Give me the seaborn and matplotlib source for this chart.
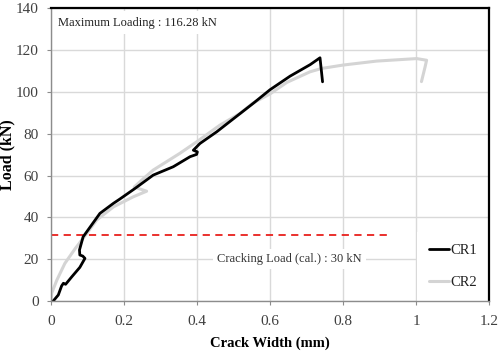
import matplotlib
matplotlib.use("Agg")
import matplotlib.pyplot as plt
import seaborn as sns
import pandas as pd

# crack width (mm) vs load (kN)
cr1_width = [0.006, 0.02, 0.029, 0.034, 0.04, 0.057, 0.079, 0.093, 0.087, 0.079, 0.078,
             0.088, 0.111, 0.134, 0.171, 0.189, 0.23, 0.28, 0.335, 0.381, 0.399, 0.401,
             0.39, 0.408, 0.454, 0.49, 0.554, 0.60, 0.655, 0.71, 0.737, 0.744]
cr1_load = [0.0, 2.9, 7.2, 8.5, 8.0, 11.6, 16.1, 20.4, 21.5, 22.0, 24.4,
            30.7, 36.3, 41.9, 46.7, 48.8, 53.8, 60.2, 64.2, 69.0, 70.1, 71.3,
            72.1, 75.3, 80.9, 85.8, 94.5, 101.0, 107.5, 113.0, 116.28, 104.8]

cr2_width = [0.0, 0.002, 0.016, 0.038, 0.066, 0.098, 0.125, 0.171, 0.225, 0.262, 0.228,
             0.253, 0.28, 0.353, 0.399, 0.463, 0.518, 0.553, 0.60, 0.646, 0.71, 0.742,
             0.80, 0.892, 1.002, 1.029, 1.025, 1.015]
cr2_load = [0.0, 3.8, 10.0, 18.0, 25.0, 32.3, 38.7, 45.0, 49.8, 52.5, 54.5,
            58.5, 62.6, 70.6, 76.1, 84.1, 89.7, 94.6, 99.0, 104.5, 109.6, 111.2,
            112.8, 114.7, 115.9, 115.1, 112.0, 104.9]

cracking_load = 31.5
max_load = 116.28

df1 = pd.DataFrame({"w": cr1_width, "p": cr1_load})
df2 = pd.DataFrame({"w": cr2_width, "p": cr2_load})

sns.set_theme(style="whitegrid")
plt.rcParams["font.family"] = ["Liberation Serif", "DejaVu Serif"]

fig = plt.figure(figsize=(5, 3.55), dpi=100)
ax = fig.add_axes([0.102, 0.152, 0.876, 0.825])

sns.lineplot(data=df2, x="w", y="p", sort=False, estimator=None, color="#d4d4d4",
             linewidth=2.2, label="CR2", ax=ax, zorder=3)
sns.lineplot(data=df1, x="w", y="p", sort=False, estimator=None, color="black",
             linewidth=2.0, label="CR1", ax=ax, zorder=4)

ax.plot([0, 0.92], [cracking_load, cracking_load], color="#e8201c", linestyle=(0, (4, 3)),
        linewidth=1.3, zorder=2)

ax.set_xlim(0, 1.2)
ax.set_ylim(0, 140)
ax.set_xticks([0, 0.2, 0.4, 0.6, 0.8, 1.0, 1.2])
ax.set_xticklabels(["0", "0.2", "0.4", "0.6", "0.8", "1", "1.2"])
ax.set_yticks(range(0, 141, 20))
ax.grid(True, color="#d9d9d9", linewidth=1.0)
ax.set_axisbelow(True)

for side in ["left", "bottom"]:
    ax.spines[side].set_color("#8c8c8c")
    ax.spines[side].set_linewidth(1.0)
for side in ["top", "right"]:
    ax.spines[side].set_color("black")
    ax.spines[side].set_linewidth(1.6)
for sp in ax.spines.values():
    sp.set_zorder(7)

ax.tick_params(axis="both", labelsize=11, colors="#8c8c8c", labelcolor="#404040",
               length=3, width=0.8, direction="out", bottom=True, left=True)
ax.tick_params(axis="x", pad=7)
ax.tick_params(axis="y", pad=6)

ax.set_xlabel("Crack Width (mm)", fontsize=10.5, fontweight="bold", color="black", labelpad=6)
ax.set_ylabel("Load (kN)", fontsize=11.5, fontweight="bold", color="black", va="center")
ax.yaxis.set_label_coords(-0.1, 0.5)

ax.text(0.02, 133, f"Maximum Loading : {max_load} kN", fontsize=9, color="#222222",
        va="center", ha="left", zorder=5,
        bbox=dict(facecolor="white", edgecolor="none", pad=4))
ax.text(0.455, 20, "Cracking Load (cal.) : 30 kN", fontsize=9, color="#333333",
        va="center", ha="left", zorder=5,
        bbox=dict(facecolor="white", edgecolor="none", pad=3))

handles, labels = ax.get_legend_handles_labels()
order = [labels.index("CR1"), labels.index("CR2")]
leg = ax.legend([handles[i] for i in order], [labels[i] for i in order],
                loc="lower right", borderaxespad=0.0, frameon=True,
                fontsize=10.5, handlelength=1.4, handletextpad=0.1, labelspacing=1.3,
                borderpad=0.8, framealpha=1, edgecolor="none", fancybox=False)
for t in leg.get_texts():
    t.set_color("#222222")

fig.savefig("out.png", dpi=100)
